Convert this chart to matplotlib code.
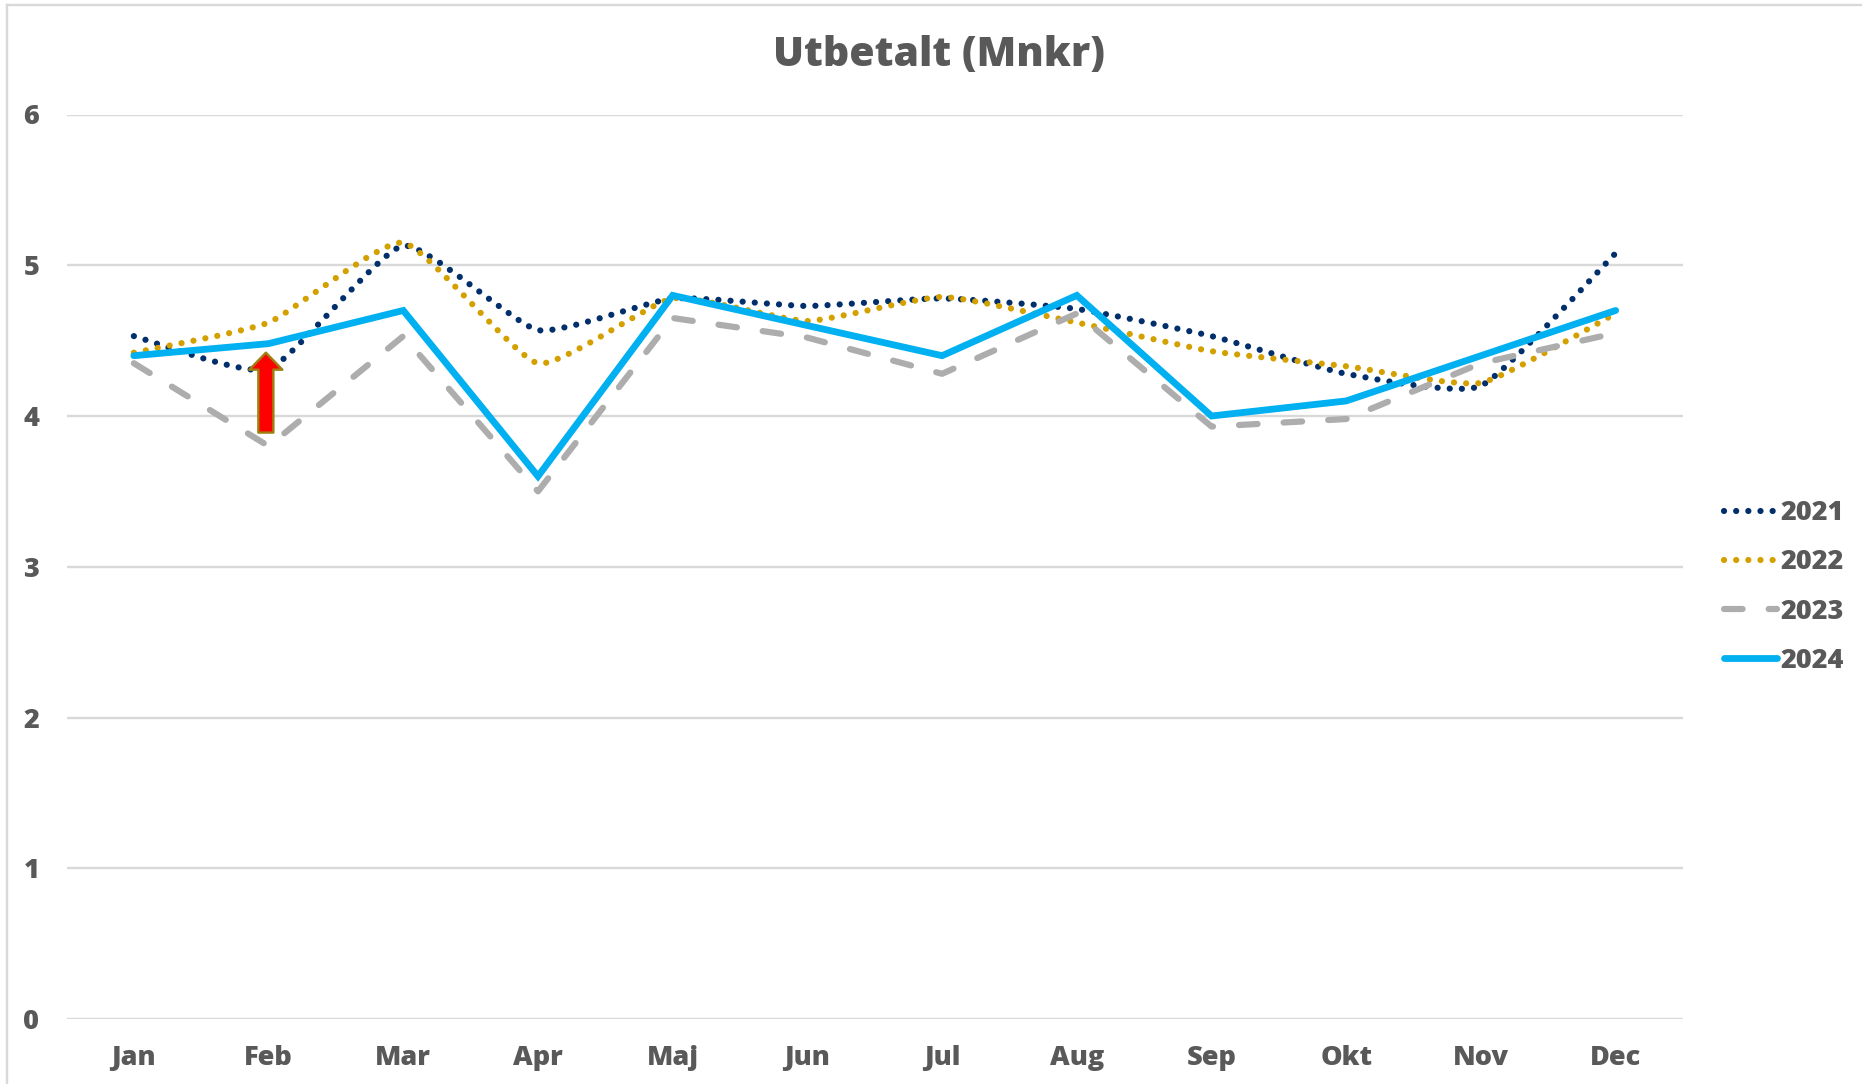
import matplotlib
matplotlib.use('Agg')
import matplotlib.pyplot as plt
import numpy as np
from matplotlib.lines import Line2D
from matplotlib.patches import PathPatch
from matplotlib.path import Path

months = ['Jan', 'Feb', 'Mar', 'Apr', 'Maj', 'Jun', 'Jul', 'Aug', 'Sep', 'Okt', 'Nov', 'Dec']
y2021 = [4.53, 4.31, 5.13, 4.57, 4.78, 4.73, 4.78, 4.71, 4.53, 4.28, 4.20, 5.08]
y2022 = [4.42, 4.62, 5.15, 4.35, 4.78, 4.63, 4.79, 4.62, 4.43, 4.33, 4.22, 4.68]
y2023 = [4.35, 3.80, 4.53, 3.50, 4.65, 4.52, 4.28, 4.68, 3.93, 3.98, 4.35, 4.55]
y2024 = [4.40, 4.48, 4.70, 3.60, 4.80, 4.60, 4.40, 4.80, 4.00, 4.10, 4.40, 4.70]
yticks = [0, 1, 2, 3, 4, 5, 6]
arrow_from = 3.89
arrow_to = 4.42

W, H = 1862, 1084
DARK = '#595959'
GRID = '#D9D9D9'
px = 0.72  # points per pixel at dpi 100
dots = (0, (0.01, 1.95))
dashes = (0, (3.0, 4.2))

plt.rcParams['font.family'] = ['Open Sans', 'DejaVu Sans']
plt.rcParams['font.weight'] = 'heavy'


def smooth_path(x, y):
    # excel style smoothed line, bezier through the points
    pts = np.column_stack([x, y])
    verts = [pts[0]]
    codes = [Path.MOVETO]
    for i in range(len(pts) - 1):
        p0 = pts[max(i - 1, 0)]
        p1 = pts[i]
        p2 = pts[i + 1]
        p3 = pts[min(i + 2, len(pts) - 1)]
        verts += [p1 + (p2 - p0) / 12, p2 - (p3 - p1) / 12, p2]
        codes += [Path.CURVE4] * 3
    return Path(verts, codes)


fig = plt.figure(figsize=(W / 100, H / 100), dpi=100)
ax = fig.add_axes([66.5 / W, 1 - 1019 / H, (1683 - 66.5) / W, (1019 - 114.5) / H])

# light frame, only left and top are inside the crop
fig.add_artist(Line2D([7 / W, 7 / W], [0, 1 - 5 / H], color=GRID, lw=2.4 * px))
fig.add_artist(Line2D([7 / W, 1], [1 - 5 / H, 1 - 5 / H], color=GRID, lw=2.4 * px))

x = np.arange(len(months))
ax.set_xlim(-0.5, 11.5)
ax.set_ylim(0, 6)
ax.set_yticks(yticks)
ax.set_xticks(x, months)
ax.grid(axis='y', color=GRID, lw=2.4 * px)
ax.set_axisbelow(True)
for s in ax.spines.values():
    s.set_visible(False)
ax.tick_params(length=0, labelsize=19.5, labelcolor=DARK)
ax.tick_params(axis='y', pad=19.5)
ax.tick_params(axis='x', pad=18.5)

ax.add_patch(PathPatch(smooth_path(x, y2021), fill=False, ec='#002F6C', lw=6.2 * px,
                       linestyle=dots, capstyle='round'))
ax.add_patch(PathPatch(smooth_path(x, y2022), fill=False, ec='#D4A000', lw=6.2 * px,
                       linestyle=dots, capstyle='round'))
ax.plot(x, y2023, color='#ADADAD', lw=6.2 * px, linestyle=dashes, dash_capstyle='round')
ax.plot(x, y2024, color='#00B0F0', lw=6.8 * px, solid_capstyle='round', solid_joinstyle='miter')

ax.annotate('', xy=(0.98, arrow_to), xytext=(0.98, arrow_from),
            arrowprops=dict(width=15 * px, headwidth=33 * px, headlength=17 * px, shrink=0,
                            fc='#FF0000', ec='#A07F10', lw=2.4 * px))

handles = [
    Line2D([], [], color='#002F6C', lw=6.2 * px, linestyle=dots, dash_capstyle='round'),
    Line2D([], [], color='#D4A000', lw=6.2 * px, linestyle=dots, dash_capstyle='round'),
    Line2D([], [], color='#ADADAD', lw=6.2 * px, linestyle=dashes, dash_capstyle='round'),
    Line2D([], [], color='#00B0F0', lw=6.8 * px, solid_capstyle='round'),
]
leg = fig.legend(handles, ['2021', '2022', '2023', '2024'], loc='center left',
                 bbox_to_anchor=(1724 / W, 1 - 587 / H), frameon=False, fontsize=19.5,
                 handlelength=1.95, handletextpad=0.15, labelspacing=0.86, borderpad=0, borderaxespad=0,
                 labelcolor=DARK)

fig.text(939 / W, 1 - 56 / H, 'Utbetalt (Mnkr)', ha='center', va='center', fontsize=29.5,
         color=DARK, fontweight='heavy')

fig.savefig('out.png', dpi=100, facecolor='white')
